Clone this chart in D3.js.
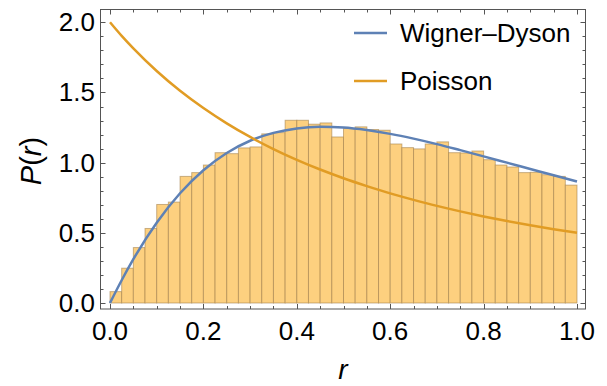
<!DOCTYPE html>
<html>
<head>
<meta charset="utf-8">
<script src="https://cdn.jsdelivr.net/npm/d3@7"></script>
<style>
  body { margin: 0; background: #fff; }
  text { font-family: "Liberation Sans", Arial, sans-serif; fill: #000; }
</style>
</head>
<body>
<svg id="svg"></svg>
<script>
// histogram: 40 bins of width 0.025 on [0, 1]
var binWidth = 0.025;
var binHeights = [
  0.081, 0.248, 0.395, 0.531, 0.702, 0.719, 0.902, 0.929, 0.983, 1.071,
  1.064, 1.105, 1.112, 1.205, 1.214, 1.302, 1.302, 1.274, 1.283, 1.183,
  1.243, 1.255, 1.236, 1.231, 1.133, 1.107, 1.098, 1.133, 1.148, 1.071,
  1.069, 1.083, 1.021, 0.983, 0.969, 0.929, 0.931, 0.914, 0.902, 0.840
];

// curves, read at these r values
var curveR = [0, 0.025, 0.05, 0.1, 0.15, 0.2, 0.25, 0.3, 0.35, 0.4, 0.45, 0.5,
              0.55, 0.6, 0.65, 0.7, 0.75, 0.8, 0.85, 0.9, 0.95, 1];
var wignerDyson = [0, 0.162, 0.312, 0.572, 0.782, 0.946, 1.069, 1.156, 1.212, 1.244, 1.255, 1.250,
                   1.232, 1.205, 1.171, 1.132, 1.089, 1.045, 1.000, 0.955, 0.910, 0.866];
var poisson = [2.0, 1.903, 1.814, 1.653, 1.512, 1.389, 1.280, 1.183, 1.097, 1.020, 0.951, 0.889,
               0.833, 0.781, 0.735, 0.692, 0.653, 0.617, 0.584, 0.554, 0.526, 0.5];

var seriesNames = ["Wigner\u2013Dyson", "Poisson"];
var seriesColors = ["#5e81b5", "#e19c24"];

var xTicks = [0, 0.2, 0.4, 0.6, 0.8, 1.0];
var yTicks = [0, 0.5, 1.0, 1.5, 2.0];

var width = 607, height = 386;
var frame = {left: 100.5, right: 585.5, top: 9.5, bottom: 309};

var svg = d3.select("#svg").attr("width", width).attr("height", height);

var x = d3.scaleLinear().domain([0, 1]).range([110, 577]);
var y = d3.scaleLinear().domain([0, 2]).range([303, 22.3]);

// bars
var bins = binHeights.map(function(h, i) { return {x0: i * binWidth, x1: (i + 1) * binWidth, h: h}; });
svg.append("g").selectAll("rect")
    .data(bins)
  .enter().append("rect")
    .attr("x", function(d) { return x(d.x0); })
    .attr("width", function(d) { return x(d.x1) - x(d.x0); })
    .attr("y", function(d) { return y(d.h); })
    .attr("height", function(d) { return y(0) - y(d.h); })
    .attr("fill", "#fdd07f")
    .attr("stroke", "#9c7a45")
    .attr("stroke-opacity", 0.55)
    .attr("stroke-width", 1);

// curves
var line = d3.line()
    .curve(d3.curveMonotoneX)
    .x(function(d) { return x(d[0]); })
    .y(function(d) { return y(d[1]); });

[wignerDyson, poisson].forEach(function(vals, i) {
  svg.append("path")
      .datum(curveR.map(function(r, j) { return [r, vals[j]]; }))
      .attr("fill", "none")
      .attr("stroke", seriesColors[i])
      .attr("stroke-width", 2.5)
      .attr("d", line);
});

// frame
var frameColor = "#555";
svg.append("rect")
    .attr("x", frame.left).attr("y", frame.top)
    .attr("width", frame.right - frame.left)
    .attr("height", frame.bottom - frame.top)
    .attr("fill", "none")
    .attr("stroke", frameColor)
    .attr("stroke-width", 1);

// ticks, pointing inward on all four sides
var ticks = svg.append("g").attr("stroke", frameColor).attr("stroke-width", 1);
d3.range(0, 21).forEach(function(i) {
  var v = i * 0.05, major = i % 4 === 0, len = major ? 5 : 3;
  var px = Math.round(x(v)) + 0.5;
  ticks.append("line").attr("x1", px).attr("x2", px).attr("y1", frame.bottom).attr("y2", frame.bottom - len);
  ticks.append("line").attr("x1", px).attr("x2", px).attr("y1", frame.top).attr("y2", frame.top + len);
});
d3.range(0, 21).forEach(function(i) {
  var v = i * 0.1, major = i % 5 === 0, len = major ? 5 : 3;
  var py = Math.round(y(v)) + 0.5;
  ticks.append("line").attr("y1", py).attr("y2", py).attr("x1", frame.left).attr("x2", frame.left + len);
  ticks.append("line").attr("y1", py).attr("y2", py).attr("x1", frame.right).attr("x2", frame.right - len);
});

// tick labels
svg.append("g").selectAll("text")
    .data(xTicks)
  .enter().append("text")
    .attr("x", function(d) { return x(d); })
    .attr("y", 340)
    .attr("text-anchor", "middle")
    .attr("font-size", 26)
    .text(function(d) { return d.toFixed(1); });

svg.append("g").selectAll("text")
    .data(yTicks)
  .enter().append("text")
    .attr("x", 95)
    .attr("y", function(d) { return y(d) + 9; })
    .attr("text-anchor", "end")
    .attr("font-size", 26)
    .text(function(d) { return d.toFixed(1); });

// axis labels
svg.append("text")
    .attr("x", 343).attr("y", 379)
    .attr("text-anchor", "middle")
    .attr("font-size", 28)
    .attr("font-style", "italic")
    .text("r");

var yl = svg.append("text")
    .attr("transform", "translate(41,161) rotate(-90)")
    .attr("text-anchor", "middle")
    .attr("font-size", 29);
yl.append("tspan").attr("font-style", "italic").text("P");
yl.append("tspan").text("(");
yl.append("tspan").attr("font-style", "italic").text("r");
yl.append("tspan").text(")");

// legend
var legend = svg.append("g");
seriesNames.forEach(function(name, i) {
  var ly = 33 + i * 48;
  legend.append("line")
      .attr("x1", 354).attr("x2", 387)
      .attr("y1", ly).attr("y2", ly)
      .attr("stroke", seriesColors[i])
      .attr("stroke-width", 2.5);
  legend.append("text")
      .attr("x", 400).attr("y", ly + 9)
      .attr("font-size", 26)
      .text(name);
});
</script>
</body>
</html>
